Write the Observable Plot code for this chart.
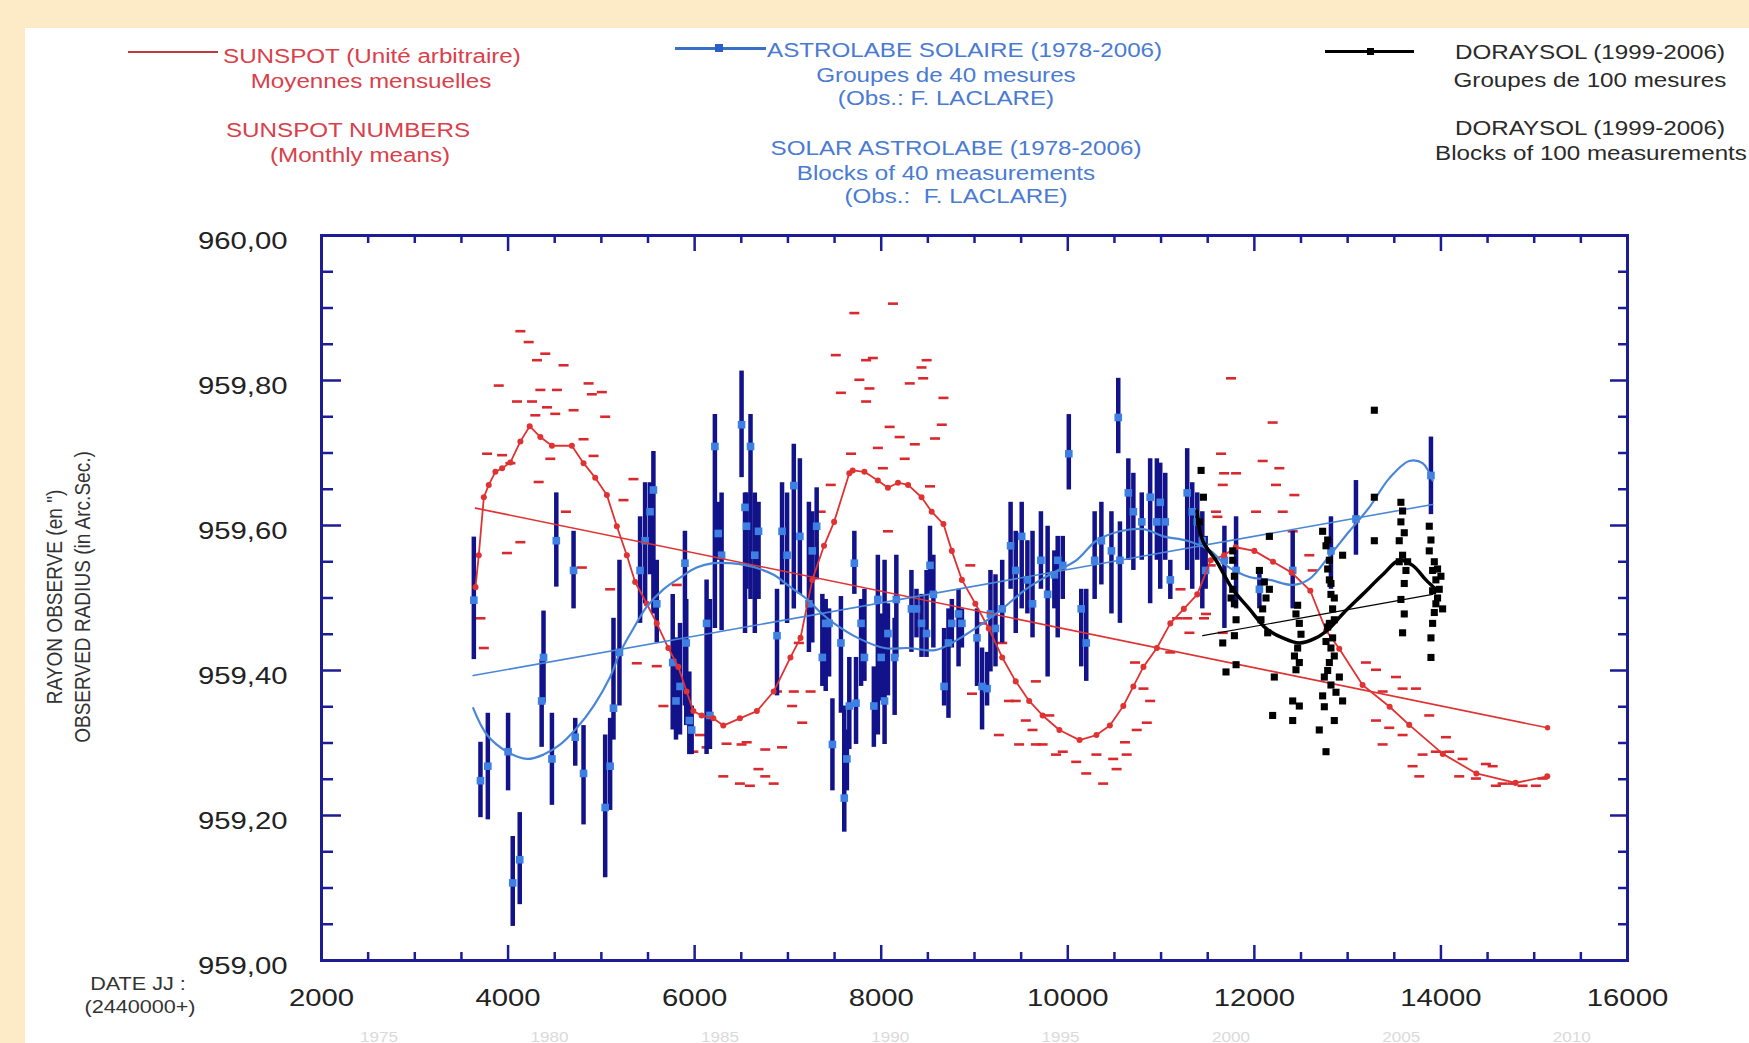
<!DOCTYPE html>
<html><head><meta charset="utf-8">
<script src="https://cdn.jsdelivr.net/npm/d3@7"></script>
<script src="https://cdn.jsdelivr.net/npm/@observablehq/plot@0.6"></script>
<style>
html,body{margin:0;padding:0;width:1749px;height:1043px;overflow:hidden;background:#fdebc8;font-family:"Liberation Sans",Arial,sans-serif;}
#panel{position:absolute;left:25px;top:28px;right:0;bottom:0;background:#fff;}
.t{position:absolute;white-space:nowrap;font-size:19.5px;line-height:22px;}
.c{width:600px;text-align:center;transform:scaleX(1.24);transform-origin:center;}
.l{transform:scaleX(1.24);transform-origin:left center;}
.red{color:#d9404a;} .blue{color:#4a7bd2;} .blk{color:#2a2a2a;}
.ax{position:absolute;width:400px;height:20px;line-height:20px;text-align:center;font-size:17px;color:#333;white-space:nowrap;transform:rotate(-90deg) scale(1.12,1.25);transform-origin:center;}
.dj{position:absolute;width:200px;text-align:center;font-size:18px;line-height:20px;color:#333;transform:scaleX(1.2);transform-origin:center;}
#chart{position:absolute;left:0;top:215px;}
.sw{position:absolute;}
</style></head><body>
<div id="panel"></div>

<div class="sw" style="left:128px;top:51px;width:90px;height:2px;background:#c0393f;"></div>
<div class="t l red" style="left:223px;top:45px;">SUNSPOT (Unité arbitraire)</div>
<div class="t c red" style="left:71px;top:70px;">Moyennes mensuelles</div>
<div class="t c red" style="left:48px;top:119px;">SUNSPOT NUMBERS</div>
<div class="t c red" style="left:60px;top:144px;">(Monthly means)</div>

<div class="sw" style="left:675px;top:47px;width:91px;height:3px;background:#3a6fc8;"></div>
<div class="sw" style="left:715px;top:44px;width:8px;height:8px;background:#2a5fc9;"></div>
<div class="t l blue" style="left:767px;top:39px;">ASTROLABE SOLAIRE (1978-2006)</div>
<div class="t c blue" style="left:646px;top:64px;">Groupes de 40 mesures</div>
<div class="t c blue" style="left:646px;top:87px;">(Obs.: F. LACLARE)</div>
<div class="t c blue" style="left:656px;top:137px;">SOLAR ASTROLABE (1978-2006)</div>
<div class="t c blue" style="left:646px;top:162px;">Blocks of 40 measurements</div>
<div class="t c blue" style="left:656px;top:185px;">(Obs.:&nbsp; F. LACLARE)</div>

<div class="sw" style="left:1325px;top:50px;width:89px;height:3px;background:#000;"></div>
<div class="sw" style="left:1367px;top:48px;width:7px;height:7px;background:#000;"></div>
<div class="t c blk" style="left:1290px;top:41px;">DORAYSOL (1999-2006)</div>
<div class="t c blk" style="left:1290px;top:69px;">Groupes de 100 mesures</div>
<div class="t c blk" style="left:1290px;top:117px;">DORAYSOL (1999-2006)</div>
<div class="t c blk" style="left:1291px;top:142px;">Blocks of 100 measurements</div>

<div class="ax" style="left:-144px;top:587px;">RAYON OBSERVE (en ")</div>
<div class="ax" style="left:-116px;top:587px;">OBSERVED RADIUS (in Arc.Sec.)</div>

<div class="dj" style="left:38px;top:974px;">DATE JJ :</div>
<div class="dj" style="left:40px;top:997px;">(2440000+)</div>

<div id="chart"></div>
<script>
// ---- Sunspot monthly means (red dashes) ----
const sspX = [4132,4221,4310,4399,4595,3900,4096,4257,4346,4524,4863,5005,4417,4506,4702,4898,5041,4292,3775,3936,4025,4809,4916,4453,4328,4620,4132,3988,4791,5094,3704,3740,5344,5237,5380,5594,5665,5772,5808,5986,6128,6342,6503,6307,6485,6592,6057,
8126,7712,7513,7838,7910,8487,8432,7766,7874,8306,8450,7568,7838,8667,8090,8649,8198,8577,7964,8360,7676,8252,8018,8523,7459,7351,8072,8955,7279,7117,7243,7063,6883,7045,7153,6937,6757,6558,6684,6847,6757,9081,9297,9370,9442,9261,9658,9550,9622,9478,9730,9802,9874,9946,10090,10198,10307,10379,10487,10523,10631,10613,10739,10721,10811,10883,10847,11172,11099,11280,11208,11604,11532,11676,11460,8973,9658,
11750,12196,11643,12089,12268,11804,11661,11589,12018,12304,12232,12429,12411,12589,12625,11482,11304,11661,13196,13304,13518,13589,13732,13375,13304,13446,13589,13875,13375,13696,13803,13946,14054,14089,14232,14196,14375,14482,14554,14661,14768,14875,15018,15089,13768,14589];
const sspY = [959.868,959.853,959.828,959.837,959.821,959.793,959.771,959.771,959.787,959.787,959.796,959.784,959.763,959.754,959.759,959.781,959.750,959.752,959.699,959.697,959.686,959.719,959.696,959.692,959.660,959.619,959.577,959.562,959.542,959.512,959.472,959.431,959.664,959.635,959.410,959.406,959.351,959.431,959.518,959.288,959.294,959.299,959.298,959.254,959.244,959.241,959.311,
959.906,959.893,959.835,959.828,959.831,959.828,959.818,959.801,959.789,959.796,959.803,959.783,959.771,959.776,959.736,959.739,959.722,959.720,959.707,959.712,959.699,959.692,959.679,959.654,959.656,959.619,959.592,959.545,959.528,959.438,959.371,959.371,959.371,959.351,959.328,959.294,959.291,959.301,959.264,959.244,959.254,959.465,959.438,959.358,959.358,959.311,959.385,959.331,959.318,959.298,959.298,959.338,959.284,959.288,959.274,959.258,959.284,959.244,959.278,959.264,959.284,959.301,959.318,959.411,959.375,959.358,959.328,959.472,959.425,959.472,959.512,959.612,959.545,959.672,959.472,959.368,959.298,
959.803,959.742,959.699,959.689,959.679,959.672,959.656,959.619,959.619,959.619,959.656,959.642,959.592,959.559,959.538,959.478,959.452,959.452,959.411,959.401,959.391,959.375,959.375,959.371,959.331,959.321,959.311,959.338,959.298,959.268,959.284,959.288,959.308,959.288,959.278,959.254,959.251,959.271,959.268,959.244,959.244,959.241,959.241,959.251,959.254,959.241];

// ---- Sunspot smoothed curve ----
const sunX = [3651,3686,3740,3793,3864,3936,4025,4132,4232,4346,4470,4684,4809,4934,5059,5166,5273,5362,5487,5594,5718,5825,5914,5986,6075,6200,6307,6485,6667,6847,7027,7135,7261,7387,7495,7658,7694,7820,7964,8072,8180,8288,8432,8541,8667,8757,8865,9009,9153,9297,9442,9586,9730,9910,10126,10307,10451,10595,10703,10811,10955,11099,11244,11388,11532,11676,11800,12000,12200,12400,12600,12770,12910,13160,13450,13660,14020,14380,14800,15140];
const sunY = [959.515,959.559,959.639,959.656,959.674,959.679,959.687,959.716,959.737,959.722,959.710,959.710,959.686,959.666,959.642,959.599,959.559,959.522,959.492,959.465,959.431,959.405,959.371,959.344,959.338,959.334,959.324,959.334,959.344,959.371,959.418,959.445,959.525,959.572,959.605,959.672,959.676,959.674,959.662,959.652,959.659,959.656,959.639,959.619,959.602,959.565,959.525,959.492,959.458,959.418,959.385,959.358,959.338,959.318,959.304,959.311,959.324,959.351,959.378,959.405,959.431,959.465,959.485,959.505,959.552,959.559,959.570,959.565,959.550,959.535,959.510,959.455,959.430,959.380,959.350,959.325,959.285,959.258,959.245,959.254];
const sunTrendX = [3651,15143];
const sunTrendY = [959.624,959.321];

// ---- Solar astrolabe (blocks of 40) ----
const astX = [3633,3704,3783,4000,4050,4125,4360,4380,4470,4517,4702,4720,4809,5041,5094,5130,5194,5415,5469,5522,5558,5594,5765,5800,5843,5896,5910,5943,5968,6128,6164,6217,6253,6289,6503,6556,6599,6645,
6540,6685,6883,6937,6991,7063,7128,7225,7261,7308,7369,7405,7441,7477,7568,7604,7632,7658,7712,7730,7784,7820,7921,7964,8000,8036,8072,8144,8162,8324,8378,8432,8486,8523,8559,8674,8721,8757,8829,8865,9027,9081,9135,9171,9225,9297,9387,9442,9506,9567,9622,9712,9784,9856,9892,9946,10011,10144,10198,10288,10360,10468,10541,10559,10649,10703,10793,10883,10955,10991,11045,11099,11280,11334,11388,11442,11478,
11679,11804,12054,12411,12821,13089,13893];
const astY = [959.497,959.248,959.268,959.288,959.107,959.139,959.358,959.418,959.278,959.579,959.538,959.308,959.258,959.211,959.268,959.348,959.425,959.538,959.579,959.619,959.649,959.492,959.411,959.358,959.378,959.548,959.438,959.331,959.318,959.465,959.338,959.709,959.589,959.559,959.739,959.599,959.709,959.559,
959.625,959.592,959.448,959.592,959.559,959.655,959.585,959.492,959.565,959.599,959.418,959.465,959.465,959.298,959.438,959.224,959.278,959.351,959.548,959.355,959.465,959.418,959.351,959.498,959.418,959.358,959.451,959.418,959.498,959.485,959.485,959.465,959.451,959.545,959.505,959.378,959.438,959.465,959.478,959.465,959.445,959.378,959.375,959.478,959.458,959.485,959.572,959.538,959.585,959.525,959.492,959.552,959.505,959.532,959.552,959.545,959.699,959.485,959.438,959.552,959.579,959.565,959.749,959.552,959.645,959.619,959.605,959.639,959.605,959.632,959.605,959.525,959.645,959.619,959.605,959.579,959.538,
959.552,959.538,959.512,959.538,959.565,959.609,959.669];
const astHi = [959.584,959.301,959.341,959.341,959.171,959.204,959.415,959.482,959.341,959.645,959.592,959.334,959.324,959.311,959.334,959.472,959.552,959.612,959.659,959.659,959.702,959.552,959.505,959.445,959.465,959.592,959.498,959.398,959.351,959.525,959.498,959.753,959.632,959.645,959.813,959.645,959.753,959.645,
959.645,959.632,959.512,959.659,959.645,959.712,959.692,959.632,959.619,959.652,959.505,959.498,959.485,959.361,959.502,959.351,959.318,959.418,959.592,959.418,959.498,959.512,959.405,959.559,959.478,959.552,959.492,959.472,959.559,959.538,959.512,959.505,959.538,959.599,959.559,959.458,959.485,959.498,959.512,959.485,959.485,959.431,959.425,959.538,959.532,959.552,959.632,959.592,959.632,959.579,959.592,959.619,959.599,959.565,959.585,959.585,959.753,959.512,959.512,959.619,959.632,959.619,959.803,959.605,959.692,959.672,959.645,959.692,959.692,959.686,959.672,959.552,959.706,959.659,959.645,959.619,959.585,
959.599,959.612,959.538,959.592,959.612,959.662,959.722];
const astLo = [959.415,959.197,959.194,959.234,959.047,959.077,959.294,959.355,959.214,959.515,959.485,959.268,959.187,959.114,959.207,959.304,959.351,959.465,959.492,959.532,959.478,959.438,959.318,959.304,959.311,959.351,959.324,959.284,959.284,959.284,959.291,959.458,959.552,959.455,959.666,959.512,959.498,959.451,
959.451,959.498,959.365,959.518,959.465,959.485,959.505,959.425,959.438,959.525,959.378,959.371,959.391,959.234,959.341,959.177,959.234,959.291,959.505,959.298,959.378,959.385,959.294,959.311,959.358,959.298,959.365,959.338,959.418,959.425,959.445,959.418,959.418,959.505,959.431,959.351,959.334,959.431,959.405,959.431,959.378,959.318,959.351,959.398,959.405,959.438,959.512,959.451,959.485,959.478,959.445,959.512,959.391,959.485,959.445,959.498,959.649,959.405,959.385,959.498,959.518,959.478,959.699,959.465,959.552,959.538,959.552,959.492,959.552,959.512,959.552,959.498,959.538,959.512,959.552,959.485,959.512,
959.458,959.485,959.485,959.485,959.512,959.559,959.615];
const astCurveX = [3626,3775,3989,4203,4381,4560,4738,4916,5094,5201,5344,5487,5665,5843,6021,6200,6378,6556,6700,6847,7027,7207,7350,7495,7748,8036,8288,8577,8757,9009,9297,9550,9802,10090,10307,10559,10811,11027,11280,11532,11696,11946,12161,12411,12589,12804,13018,13232,13446,13660,13803,13911];
const astCurveY = [959.348,959.311,959.288,959.278,959.284,959.298,959.321,959.351,959.391,959.425,959.458,959.488,959.512,959.528,959.542,959.548,959.548,959.545,959.540,959.532,959.515,959.498,959.480,959.465,959.445,959.431,959.431,959.428,959.438,959.458,959.485,959.512,959.532,959.552,959.579,959.592,959.595,959.585,959.579,959.565,959.545,959.529,959.525,959.518,959.526,959.558,959.592,959.625,959.665,959.689,959.686,959.662];
const astTrendX = [3626,13911];
const astTrendY = [959.393,959.629];

// ---- DORAYSOL (blocks of 100) ----
const dorX = [11429,11454,11411,11768,11768,11768,11786,11786,11661,11696,11804,12054,12107,12161,12089,12143,12161,12214,12196,12446,12482,12464,12482,12446,12411,12482,12411,12732,12768,12804,12804,12821,12839,12804,12839,12821,12804,12750,12732,12696,12768,12857,12946,12911,12946,13286,13286,13286,13571,13571,13553,13589,13625,13571,13607,13589,13875,13875,13911,13946,13982,13946,14018,13911,13893,13893,
12786,12786,12821,12857,12857,12786,12768,12857,12786,12821,12750,12875,13589,13607,13553,13607,13643,13929,13964,13911,13964,13929,13893,14000,12464,12500,12430,11786,11750,11804,12125,12071];
const dorY = [959.676,959.639,959.605,959.565,959.552,959.512,959.492,959.448,959.438,959.398,959.408,959.538,959.522,959.512,959.485,959.452,959.585,959.391,959.338,959.478,959.465,959.431,959.411,959.401,959.358,959.351,959.331,959.592,959.572,959.552,959.525,959.505,959.485,959.465,959.445,959.431,959.411,959.391,959.365,959.318,959.288,959.331,959.358,959.391,959.559,959.759,959.639,959.579,959.632,959.605,959.579,959.559,959.538,959.498,959.478,959.452,959.599,959.565,959.538,959.525,959.512,959.492,959.485,959.465,959.445,959.418,
959.580,959.540,959.520,959.500,959.470,959.460,959.440,959.420,959.400,959.380,959.350,959.370,959.620,959.590,959.550,959.520,959.550,959.550,959.540,959.510,959.500,959.480,959.580,959.530,959.490,959.450,959.420,959.530,959.500,959.470,959.500,959.470];
const dorCurveX = [11385,11446,11589,11768,11946,12125,12304,12482,12661,12804,12946,13161,13375,13553,13696,13839,13946];
const dorCurveY = [959.620,959.579,959.552,959.512,959.485,959.458,959.445,959.438,959.445,959.458,959.478,959.505,959.532,959.552,959.545,959.525,959.512];
const dorTrendX = [11446,13911];
const dorTrendY = [959.448,959.505];

// ---- ticks ----
const xMajor = [2000,4000,6000,8000,10000,12000,14000,16000];
const xMinor = [2500,3000,3500,4500,5000,5500,6500,7000,7500,8500,9000,9500,10500,11000,11500,12500,13000,13500,14500,15000,15500];
const yMajor = [959.0,959.2,959.4,959.6,959.8,960.0];
const yMinor = [959.05,959.1,959.15,959.25,959.3,959.35,959.45,959.5,959.55,959.65,959.7,959.75,959.85,959.9,959.95];
const yearLabels = ["1975","1980","1985","1990","1995","2000","2005","2010"];
const yearPos = [2413,4240,6067,7893,9719,11545,13372,15198];

const pts = (X, Y) => X.map((x, i) => ({x, y: Y[i]}));
const ssp = pts(sspX, sspY);
const sun = pts(sunX, sunY);
const sunTrend = pts(sunTrendX, sunTrendY);
const ast = astX.map((x, i) => ({x, y: astY[i], lo: astLo[i], hi: astHi[i]}));
const astCurve = pts(astCurveX, astCurveY);
const astTrend = pts(astTrendX, astTrendY);
const dor = pts(dorX, dorY);
const dorCurve = pts(dorCurveX, dorCurveY);
const dorTrend = pts(dorTrendX, dorTrendY);

const NAVY = "#1c1c96";
const dash = {draw(ctx) { ctx.rect(-5, -1.3, 10, 2.6); }};
const fmt = d => d.toFixed(2).replace(".", ",");

const chart = Plot.plot({
  width: 1749, height: 828,
  marginTop: 20, marginBottom: 83, marginLeft: 321, marginRight: 122,
  style: {background: "transparent", fontFamily: "'Liberation Sans', Arial, sans-serif", overflow: "visible"},
  x: {domain: [2000, 16000]},
  y: {domain: [959, 960]},
  marks: [
    Plot.dot(ssp, {x: "x", y: "y", symbol: dash, fill: "#d8292f", stroke: null}),
    Plot.ruleX(ast, {x: "x", y1: "lo", y2: "hi", stroke: "#12128a", strokeWidth: 4.5}),
    Plot.dot(ast, {x: "x", y: "y", symbol: "square", r: 4.3, fill: "#3d7fe3", stroke: null}),
    Plot.line(sun, {x: "x", y: "y", stroke: "#e03232", strokeWidth: 1.8, marker: "dot"}),
    Plot.line(sunTrend, {x: "x", y: "y", stroke: "#e03232", strokeWidth: 1.6, markerEnd: "dot"}),
    Plot.line(astCurve, {x: "x", y: "y", stroke: "#4a86d8", strokeWidth: 2.2, curve: "catmull-rom"}),
    Plot.line(astTrend, {x: "x", y: "y", stroke: "#4a86d8", strokeWidth: 1.6}),
    Plot.dot(dor, {x: "x", y: "y", symbol: "square", r: 4, fill: "#000", stroke: null}),
    Plot.line(dorCurve, {x: "x", y: "y", stroke: "#000", strokeWidth: 3.5, curve: "catmull-rom"}),
    Plot.line(dorTrend, {x: "x", y: "y", stroke: "#000", strokeWidth: 1.2}),
    Plot.frame({stroke: NAVY, strokeWidth: 3}),
    // inward ticks
    Plot.axisX(xMinor, {anchor: "bottom", tickSize: 8, dy: -8, fill: "none", stroke: NAVY, strokeWidth: 2.5, label: null}),
    Plot.axisX(xMajor, {anchor: "bottom", tickSize: 15, dy: -15, fill: "none", stroke: NAVY, strokeWidth: 2.5, label: null}),
    Plot.axisX(xMinor, {anchor: "top", tickSize: 7, dy: 7, fill: "none", stroke: NAVY, strokeWidth: 2.5, label: null}),
    Plot.axisX(xMajor, {anchor: "top", tickSize: 15, dy: 15, fill: "none", stroke: NAVY, strokeWidth: 2.5, label: null}),
    Plot.axisY(yMinor, {anchor: "left", tickSize: 12, dx: 12, fill: "none", stroke: NAVY, strokeWidth: 2.5, label: null}),
    Plot.axisY(yMajor, {anchor: "left", tickSize: 20, dx: 20, fill: "none", stroke: NAVY, strokeWidth: 2.5, label: null}),
    Plot.axisY(yMinor, {anchor: "right", tickSize: 10, dx: -10, fill: "none", stroke: NAVY, strokeWidth: 2.5, label: null}),
    Plot.axisY(yMajor, {anchor: "right", tickSize: 18, dx: -18, fill: "none", stroke: NAVY, strokeWidth: 2.5, label: null}),
    // tick labels
    Plot.text(xMajor, {x: d => d, frameAnchor: "bottom", dy: 45, text: d => String(d), fontSize: 24, fill: "#222"}),
    Plot.text(yMajor, {y: d => d, frameAnchor: "left", dx: -34, dy: 6, textAnchor: "end", text: fmt, fontSize: 24, fill: "#222"}),
    Plot.text(yearPos, {x: d => d, frameAnchor: "bottom", dy: 81, lineAnchor: "bottom", textAnchor: "start", text: (d, i) => yearLabels[i], fontSize: 14, fill: "#dadada"})
  ]
});
chart.querySelectorAll("text").forEach(t => {
  const tr = t.getAttribute("transform");
  if (tr) t.setAttribute("transform", tr + " scale(1.22,1)");
});
document.getElementById("chart").appendChild(chart);
</script>
</body></html>
